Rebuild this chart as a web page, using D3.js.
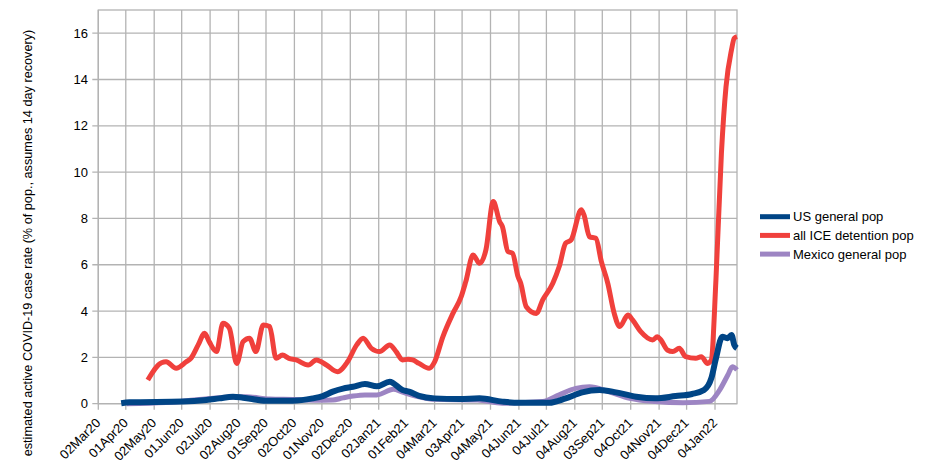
<!DOCTYPE html>
<html><head><meta charset="utf-8">
<script src="https://cdn.jsdelivr.net/npm/d3@7"></script>
<style>body{margin:0;background:#fff}svg{display:block}text{font-family:"Liberation Sans",Arial,sans-serif;fill:#000}</style>
</head><body><svg id="c" width="926" height="471"></svg>
<script>
const xTickLabels = ["02Mar20","01Apr20","02May20","01Jun20","02Jul20","02Aug20","01Sep20","02Oct20","01Nov20","02Dec20","02Jan21","01Feb21","04Mar21","03Apr21","04May21","04Jun21","04Jul21","04Aug21","03Sep21","04Oct21","04Nov21","04Dec21","04Jan22"];
const yTicks = [0,2,4,6,8,10,12,14,16];
const seriesNames = ["US general pop","all ICE detention pop","Mexico general pop"];

const usDates = ["2020-03-27","2020-04-05","2020-06-02","2020-06-28","2020-07-12","2020-07-27","2020-08-07","2020-09-01","2020-09-30","2020-10-22","2020-11-02","2020-11-13","2020-11-24","2020-12-05","2020-12-18","2020-12-31","2021-01-14","2021-01-28","2021-02-04","2021-02-15","2021-03-04","2021-03-31","2021-04-22","2021-05-17","2021-06-04","2021-07-07","2021-07-25","2021-08-12","2021-08-31","2021-09-18","2021-10-10","2021-10-31","2021-11-22","2021-12-10","2021-12-23","2021-12-31","2022-01-05","2022-01-12","2022-01-18","2022-01-22","2022-01-25","2022-01-28"];
const usVals = [0.02,0.06,0.09,0.16,0.23,0.30,0.26,0.13,0.13,0.23,0.33,0.52,0.65,0.73,0.85,0.75,0.95,0.59,0.52,0.34,0.23,0.20,0.23,0.09,0.04,0.04,0.23,0.49,0.59,0.49,0.30,0.23,0.33,0.42,0.59,1.10,1.95,2.89,2.83,2.97,2.54,2.39];

const iceDates = ["2020-04-25","2020-05-10","2020-05-15","2020-05-26","2020-06-06","2020-06-11","2020-06-19","2020-06-26","2020-07-01","2020-07-09","2020-07-16","2020-07-23","2020-07-31","2020-08-07","2020-08-14","2020-08-21","2020-08-29","2020-09-05","2020-09-12","2020-09-19","2020-09-26","2020-10-04","2020-10-17","2020-10-26","2020-11-06","2020-11-18","2020-11-29","2020-12-09","2020-12-16","2020-12-25","2021-01-03","2021-01-14","2021-01-21","2021-01-28","2021-02-03","2021-02-08","2021-02-15","2021-02-26","2021-03-04","2021-03-13","2021-03-24","2021-04-02","2021-04-07","2021-04-15","2021-04-22","2021-04-29","2021-05-07","2021-05-14","2021-05-17","2021-05-23","2021-05-28","2021-06-03","2021-06-06","2021-06-12","2021-06-23","2021-06-30","2021-07-11","2021-07-18","2021-07-25","2021-07-31","2021-08-11","2021-08-14","2021-08-20","2021-08-27","2021-09-02","2021-09-09","2021-09-16","2021-09-22","2021-10-01","2021-10-06","2021-10-15","2021-10-28","2021-11-02","2021-11-06","2021-11-13","2021-11-19","2021-11-26","2021-12-03","2021-12-14","2021-12-20","2021-12-27","2021-12-31","2022-01-05","2022-01-11","2022-01-16","2022-01-22","2022-01-25","2022-01-28"];
const iceVals = [1.02,1.77,1.81,1.53,1.81,1.96,2.54,3.04,2.68,2.25,3.47,3.26,1.74,2.68,2.83,2.25,3.40,3.33,1.96,2.10,1.96,1.89,1.67,1.89,1.67,1.38,1.81,2.54,2.83,2.39,2.25,2.54,2.25,1.89,1.92,1.89,1.74,1.53,1.81,2.89,3.90,4.62,5.27,6.42,6.06,6.64,8.73,7.86,7.65,6.57,6.50,5.49,5.20,4.19,3.90,4.48,5.20,5.92,6.93,7.07,8.37,8.15,7.21,7.14,6.13,5.20,3.90,3.33,3.83,3.62,3.11,2.75,2.89,2.75,2.32,2.25,2.39,2.03,1.96,2.03,1.74,1.89,5.34,10.82,13.69,15.28,15.78,15.85];

const mxDates = ["2020-04-02","2020-05-15","2020-06-20","2020-07-20","2020-08-10","2020-09-05","2020-10-01","2020-10-25","2020-11-13","2020-11-24","2020-12-05","2020-12-18","2020-12-31","2021-01-18","2021-01-28","2021-02-15","2021-03-04","2021-04-20","2021-05-17","2021-06-30","2021-07-18","2021-08-05","2021-08-20","2021-09-10","2021-10-03","2021-10-31","2021-11-30","2021-12-29","2022-01-09","2022-01-18","2022-01-23","2022-01-28"];
const mxVals = [0.00,0.05,0.18,0.28,0.30,0.20,0.18,0.15,0.16,0.25,0.33,0.38,0.38,0.62,0.50,0.30,0.19,0.16,0.02,0.09,0.38,0.66,0.73,0.52,0.23,0.09,0.04,0.10,0.59,1.24,1.60,1.46];

const parse = d3.timeParse("%Y-%m-%d");
const tickParse = d3.timeParse("%d%b%y");
const svg = d3.select("#c");
const L = 98.3, R = 737, T = 10, B = 403.7;
const x = d3.scaleTime().domain([parse("2020-03-02"), parse("2022-01-28")]).range([L, R]);
const y = d3.scaleLinear().domain([0, 17]).range([B, T]);
const grid = "#b3b3b3";

// gridlines
svg.append("g").selectAll("line").data(yTicks.filter(v=>v>0)).join("line")
  .attr("x1", L-6).attr("x2", R).attr("y1", d=>y(d)).attr("y2", d=>y(d))
  .attr("stroke", grid).attr("stroke-width",1.3);
const tickDates = xTickLabels.map(s=>tickParse(s));
svg.append("g").selectAll("line").data(tickDates).join("line")
  .attr("x1", d=>x(d)).attr("x2", d=>x(d)).attr("y1", T).attr("y2", B+6)
  .attr("stroke", grid).attr("stroke-width",1.3);
// frame
svg.append("rect").attr("x",L).attr("y",T).attr("width",R-L).attr("height",B-T)
  .attr("fill","none").attr("stroke",grid).attr("stroke-width",1.3);
svg.append("line").attr("x1",L-6).attr("x2",R).attr("y1",B).attr("y2",B).attr("stroke",grid).attr("stroke-width",1.3);

// y labels
svg.append("g").selectAll("text").data(yTicks).join("text")
  .attr("x", 88).attr("y", d=>y(d)).attr("text-anchor","end").attr("dy","0.35em")
  .attr("font-size", 13).text(d=>d);
// x labels
svg.append("g").selectAll("text").data(tickDates).join("text")
  .attr("transform", (d,i)=>`translate(${x(d)+3},${B+20}) rotate(-45)`)
  .attr("text-anchor","end").attr("font-size",13)
  .text((d,i)=>xTickLabels[i]);

// y title
svg.append("text").attr("transform","translate(32,243) rotate(-90)")
  .attr("text-anchor","middle").attr("font-size",12.7)
  .text("estimated active COVID-19 case rate (% of pop., assumes 14 day recovery)");

const colors = ["#004586","#f0403c","#9d85c3"];
const widths = [6,5,5];
const line = d3.line().x(d=>x(d[0])).y(d=>y(d[1])).curve(d3.curveMonotoneX);
const mk = (ds, vs) => ds.map((d,i)=>[parse(d), vs[i]]);
const series = [mk(usDates,usVals), mk(iceDates,iceVals), mk(mxDates,mxVals)];
[2,1,0].forEach(i=>{
  svg.append("path").attr("d", line(series[i])).attr("fill","none")
    .attr("stroke", colors[i]).attr("stroke-width",widths[i]).attr("stroke-linejoin","round");
});

// legend
const lg = svg.append("g");
seriesNames.forEach((n,i)=>{
  const yy = 216.7 + i*18.7;
  lg.append("line").attr("x1",760).attr("x2",790).attr("y1",yy).attr("y2",yy)
    .attr("stroke",colors[i]).attr("stroke-width",5);
  lg.append("text").attr("x",793).attr("y",yy).attr("dy","0.35em").attr("font-size",13).text(n);
});
</script></body></html>
